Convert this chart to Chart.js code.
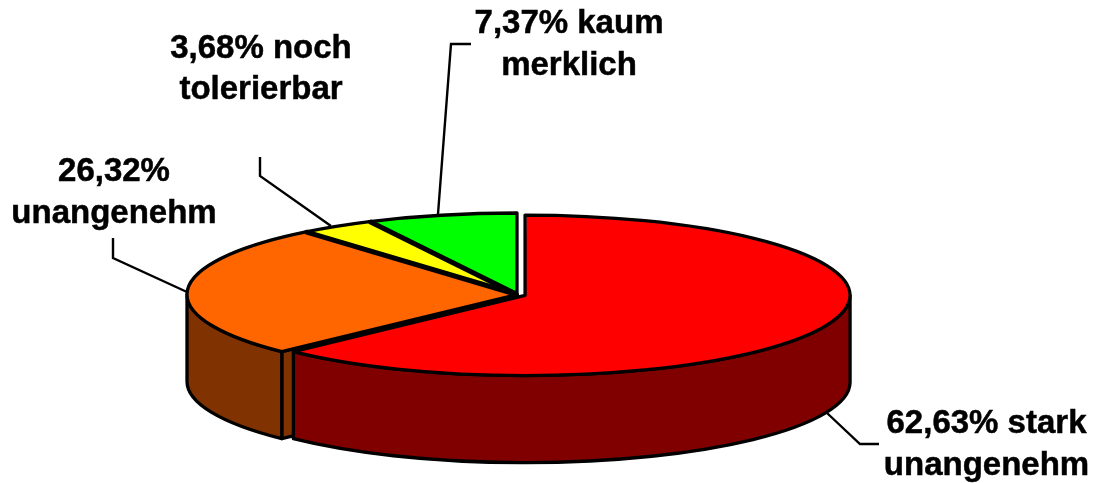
<!DOCTYPE html>
<html>
<head>
<meta charset="utf-8">
<style>html,body{margin:0;padding:0;background:#fff}canvas{display:block}</style>
<script src="https://cdn.jsdelivr.net/npm/chart.js@4"></script>
</head>
<body>
<canvas id="c" width="1096" height="483"></canvas>
<script>
const categories = ["stark unangenehm", "unangenehm", "noch tolerierbar", "kaum merklich"];
const shares = [62.63, 26.32, 3.68, 7.37];
const topColors = ["#FF0000", "#FF6600", "#FFFF00", "#00FF00"];
const wallColors = ["#800000", "#803300", "#808000", "#008000"];
const sliceOffsets = [35, 0, 0, 0];
const labelLines = [
  ["62,63% stark", "unangenehm"],
  ["26,32%", "unangenehm"],
  ["3,68% noch", "tolerierbar"],
  ["7,37% kaum", "merklich"]
];

const CX = 517, CY = 294.5, K = 81.5 / 330, DEPTH = 87, RADIUS = 330, RED_RADIUS = 325;
const labelPos = [
  [986.5, 433, 475],
  [114, 181, 223],
  [261, 58, 99],
  [569, 33, 75]
];
const leaders = [
  [[827, 413], [860, 444], [879, 444]],
  [[187, 292], [113, 258], [113, 238]],
  [[331, 226], [260, 176], [260, 157]],
  [[438, 214], [451, 44], [471, 44]]
];

function geom(arc, chart) {
  const off = (arc.options.offset || 0) / 4;
  const mid = (arc.startAngle + arc.endAngle) / 2;
  return {
    x: CX + Math.cos(mid) * off,
    y: CY + Math.sin(mid) * off * K,
    r: arc.outerRadius + off,
    a: arc.startAngle,
    b: arc.endAngle
  };
}

const pie3d = {
  id: "pie3d",
  afterDatasetsUpdate(chart) {
    const arcs = chart.getDatasetMeta(0).data;
    arcs[0].outerRadius = RED_RADIUS - (sliceOffsets[0] / 4);
  },
  beforeDatasetsDraw(chart) {
    const ctx = chart.ctx;
    const arcs = chart.getDatasetMeta(0).data;
    ctx.save();
    ctx.lineWidth = 3.3;
    ctx.lineJoin = "round";
    ctx.strokeStyle = "#000";
    for (let i = arcs.length - 1; i >= 0; i--) {
      const g = geom(arcs[i], chart);
      ctx.fillStyle = wallColors[i];
      // radial cut face turned toward the viewer
      if (Math.cos(g.a) < 0) {
        const px = g.x + g.r * Math.cos(g.a), py = g.y + g.r * K * Math.sin(g.a);
        ctx.beginPath();
        ctx.moveTo(px, py);
        ctx.lineTo(g.x, g.y);
        ctx.lineTo(g.x, g.y + DEPTH);
        ctx.lineTo(px, py + DEPTH);
        ctx.closePath();
        ctx.fill();
        ctx.stroke();
      }
      // outer rim facing the viewer
      const a = Math.max(g.a, 0), b = Math.min(g.b, Math.PI);
      if (b > a) {
        ctx.beginPath();
        ctx.ellipse(g.x, g.y, g.r, g.r * K, 0, a, b);
        ctx.ellipse(g.x, g.y + DEPTH, g.r, g.r * K, 0, b, a, true);
        ctx.closePath();
        ctx.fill();
        ctx.stroke();
      }
    }
    ctx.restore();
    // squash the library's own arcs into the tilted disc
    ctx.save();
    ctx.translate(CX, CY);
    ctx.scale(1, K);
    ctx.translate(-arcs[0].x, -arcs[0].y);
  },
  afterDatasetsDraw(chart) {
    const ctx = chart.ctx;
    const arcs = chart.getDatasetMeta(0).data;
    ctx.restore();
    ctx.save();
    ctx.strokeStyle = "#000";
    ctx.lineJoin = "round";
    // slice outlines
    arcs.forEach((arc) => {
      const g = geom(arc, chart);
      ctx.lineWidth = 3.3;
      ctx.beginPath();
      ctx.moveTo(g.x, g.y);
      ctx.ellipse(g.x, g.y, g.r, g.r * K, 0, g.a, g.b);
      ctx.closePath();
      ctx.stroke();
    });
    // heavier separators around the small slice
    const y = geom(arcs[2], chart);
    ctx.lineWidth = 5;
    [y.a, y.b].forEach((t) => {
      ctx.beginPath();
      ctx.moveTo(y.x, y.y);
      ctx.lineTo(y.x + y.r * Math.cos(t), y.y + y.r * K * Math.sin(t));
      ctx.stroke();
    });
    // leader lines
    ctx.lineWidth = 2.4;
    ctx.lineJoin = "miter";
    leaders.forEach((pts) => {
      ctx.beginPath();
      pts.forEach((p, i) => (i ? ctx.lineTo(p[0], p[1]) : ctx.moveTo(p[0], p[1])));
      ctx.stroke();
    });
    // labels
    ctx.fillStyle = "#000";
    ctx.font = 'bold 33px "Liberation Sans", Arial, sans-serif';
    ctx.textAlign = "center";
    ctx.textBaseline = "alphabetic";
    ctx.lineWidth = 0.5;
    labelLines.forEach((lines, i) => {
      lines.forEach((line, j) => {
        ctx.fillText(line, labelPos[i][0], labelPos[i][j + 1]);
        ctx.strokeText(line, labelPos[i][0], labelPos[i][j + 1]);
      });
    });
    ctx.restore();
  }
};

new Chart(document.getElementById("c"), {
  type: "pie",
  data: {
    labels: categories,
    datasets: [{
      data: shares,
      backgroundColor: topColors,
      borderWidth: 0,
      offset: sliceOffsets,
      clip: false
    }]
  },
  options: {
    responsive: false,
    animation: false,
    radius: RADIUS,
    layout: { padding: 0 },
    events: [],
    plugins: { legend: { display: false }, tooltip: { enabled: false }, title: { display: false } }
  },
  plugins: [pie3d]
});
</script>
</body>
</html>
